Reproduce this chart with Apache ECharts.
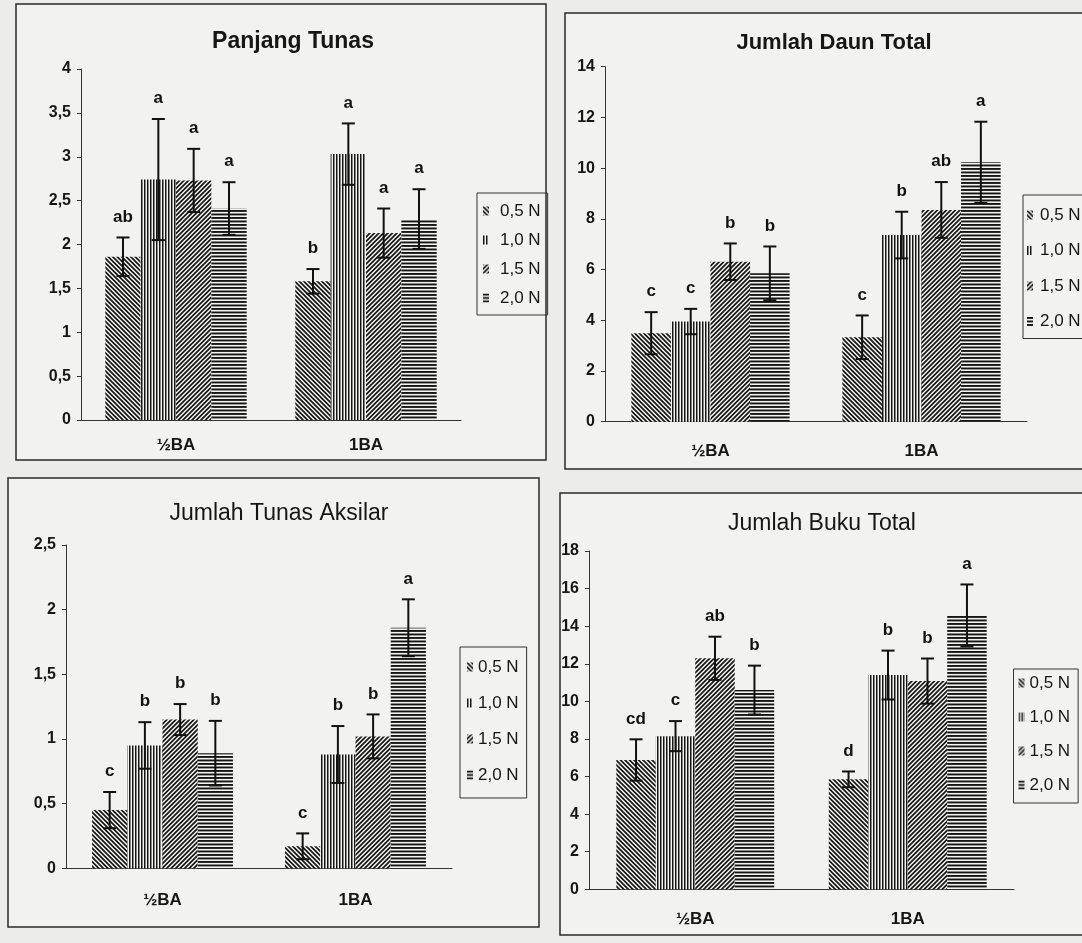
<!DOCTYPE html>
<html>
<head>
<meta charset="utf-8">
<script src="https://cdn.jsdelivr.net/npm/echarts@6/dist/echarts.min.js"></script>
<style>
  html, body { margin: 0; padding: 0; background: #ececea; }
  #chart { width: 1082px; height: 943px; }
</style>
</head>
<body>
<div id="chart"></div>
<script>
const categories = ['½BA', '1BA'];
const nitrogen = ['0,5 N', '1,0 N', '1,5 N', '2,0 N'];

// values per nitrogen level: [½BA, 1BA]
const panjangMean = [[1.86, 1.58], [2.74, 3.03], [2.73, 2.13], [2.41, 2.29]];
const panjangErr = [[0.22, 0.14], [0.69, 0.35], [0.36, 0.28], [0.30, 0.34]];
const panjangLetter = [['ab', 'b'], ['a', 'a'], ['a', 'a'], ['a', 'a']];
const panjangTicks = [0, 0.5, 1, 1.5, 2, 2.5, 3, 3.5, 4];

const daunMean = [[3.49, 3.33], [3.95, 7.36], [6.31, 8.35], [5.85, 10.23]];
const daunErr = [[0.83, 0.86], [0.50, 0.92], [0.72, 1.10], [1.06, 1.60]];
const daunLetter = [['c', 'c'], ['c', 'b'], ['b', 'ab'], ['b', 'a']];
const daunTicks = [0, 2, 4, 6, 8, 10, 12, 14];

const aksilarMean = [[0.45, 0.17], [0.95, 0.88], [1.15, 1.02], [0.89, 1.86]];
const aksilarErr = [[0.14, 0.10], [0.18, 0.22], [0.12, 0.17], [0.25, 0.22]];
const aksilarLetter = [['c', 'c'], ['b', 'b'], ['b', 'b'], ['b', 'a']];
const aksilarTicks = [0, 0.5, 1, 1.5, 2, 2.5];

const bukuMean = [[6.88, 5.85], [8.15, 11.40], [12.29, 11.08], [10.60, 14.57]];
const bukuErr = [[1.10, 0.42], [0.80, 1.30], [1.15, 1.20], [1.30, 1.65]];
const bukuLetter = [['cd', 'd'], ['c', 'b'], ['ab', 'b'], ['b', 'a']];
const bukuTicks = [0, 2, 4, 6, 8, 10, 12, 14, 16, 18];

const FONT = '"Liberation Sans", Arial, sans-serif';
const INK = '#161616';
const PAPER = '#f4f4f2';

// hatch fills: "\\", "|||", "///", "==="
function hatch(kind) {
  const c = document.createElement('canvas');
  const ctx = c.getContext('2d');
  if (kind === 'back' || kind === 'fwd') {
    const t = 9, step = 4.5;
    c.width = t; c.height = t;
    ctx.fillStyle = PAPER; ctx.fillRect(0, 0, t, t);
    ctx.strokeStyle = INK; ctx.lineWidth = 1.7;
    ctx.beginPath();
    for (let k = -2; k <= 2; k++) {
      const o = k * step;
      if (kind === 'back') { ctx.moveTo(o - 2, -2); ctx.lineTo(o + t + 2, t + 2); }
      else { ctx.moveTo(o - 2, t + 2); ctx.lineTo(o + t + 2, -2); }
    }
    ctx.stroke();
  } else if (kind === 'vert') {
    c.width = 3; c.height = 3;
    ctx.fillStyle = PAPER; ctx.fillRect(0, 0, 3, 3);
    ctx.fillStyle = INK; ctx.fillRect(0, 0, 1.5, 3);
  } else {
    c.width = 7; c.height = 7;
    ctx.fillStyle = PAPER; ctx.fillRect(0, 0, 7, 7);
    ctx.fillStyle = INK; ctx.fillRect(0, 0, 7, 1.9); ctx.fillRect(0, 3.5, 7, 1.9);
  }
  return { image: c, repeat: 'repeat' };
}
const fills = [hatch('back'), hatch('vert'), hatch('fwd'), hatch('horiz')];

const panels = [
  { title: 'Panjang Tunas', bold: true, size: 23, mean: panjangMean, err: panjangErr, letter: panjangLetter, ticks: panjangTicks,
    grid: { left: 81, top: 69, width: 380, height: 351 }, gap: 0.256, titleAt: [293, 41], xMargin: 17,
    frame: [16, 4, 530, 456],
    legend: { left: 477, top: 193, itemGap: 11, padding: [9, 7, 8, 6], textPad: 6 } },
  { title: 'Jumlah Daun Total', bold: true, size: 22, mean: daunMean, err: daunErr, letter: daunLetter, ticks: daunTicks,
    grid: { left: 605, top: 66.7, width: 422, height: 355 }, gap: 0.25, titleAt: [834, 43], xMargin: 21,
    frame: [565, 13, 540, 456],
    legend: { left: 1023, top: 195, itemGap: 17.5, padding: [11, 8, 8, 4], textPad: 2 } },
  { title: 'Jumlah Tunas Aksilar', bold: false, size: 23, mean: aksilarMean, err: aksilarErr, letter: aksilarLetter, ticks: aksilarTicks,
    grid: { left: 66, top: 545, width: 386, height: 323.3 }, gap: 0.27, titleAt: [279, 513], xMargin: 24,
    frame: [8, 478, 531, 449],
    legend: { left: 460, top: 647, itemGap: 18, padding: [11, 8, 14, 7], textPad: 0 } },
  { title: 'Jumlah Buku Total', bold: false, size: 23, mean: bukuMean, err: bukuErr, letter: bukuLetter, ticks: bukuTicks,
    grid: { left: 589, top: 551, width: 425, height: 338.3 }, gap: 0.257, titleAt: [822, 523], xMargin: 22,
    frame: [560, 493, 540, 442],
    legend: { left: 1013.5, top: 669, itemGap: 16, padding: [5, 8, 9, 5], textPad: 0 } }
];

function errorBars(gapFrac, letters) {
  return function (params, api) {
    const cat = api.value(0), s = api.value(1), mean = api.value(2), err = api.value(3);
    const band = api.size([1, 0])[0];
    const barW = band * (1 - gapFrac) / 4;
    const cx = api.coord([cat, mean])[0] + (s - 1.5) * barW;
    const yTop = api.coord([cat, mean + err])[1];
    const yBot = api.coord([cat, mean - err])[1];
    const cap = 6.5;
    const ls = { stroke: '#111', lineWidth: 2 };
    return {
      type: 'group',
      children: [
        { type: 'line', shape: { x1: cx, y1: yTop, x2: cx, y2: yBot }, style: ls },
        { type: 'line', shape: { x1: cx - cap, y1: yTop, x2: cx + cap, y2: yTop }, style: ls },
        { type: 'line', shape: { x1: cx - cap, y1: yBot, x2: cx + cap, y2: yBot }, style: ls },
        { type: 'text', x: cx, y: yTop - 12,
          style: { text: letters[s][cat], align: 'center', verticalAlign: 'bottom',
                   font: 'bold 17px ' + FONT, fill: '#111' } }
      ]
    };
  };
}

const series = [];
panels.forEach((p, i) => {
  nitrogen.forEach((n, s) => {
    series.push({
      type: 'bar', name: n, xAxisIndex: i, yAxisIndex: i,
      data: p.mean[s], barGap: '0%', barCategoryGap: (p.gap * 100) + '%',
      itemStyle: { color: fills[s] }, emphasis: { disabled: true }
    });
  });
  const pts = [];
  nitrogen.forEach((n, s) => {
    categories.forEach((c, k) => pts.push([k, s, p.mean[s][k], p.err[s][k]]));
  });
  series.push({
    type: 'custom', xAxisIndex: i, yAxisIndex: i, z: 5, silent: true,
    data: pts, renderItem: errorBars(p.gap, p.letter)
  });
});

const chart = echarts.init(document.getElementById('chart'));
chart.setOption({
  backgroundColor: '#ececea',
  animation: false,
  textStyle: { fontFamily: FONT },
  graphic: panels.map(p => ({
    type: 'rect', z: -10,
    shape: { x: p.frame[0], y: p.frame[1], width: p.frame[2], height: p.frame[3] },
    style: { fill: '#f2f2f0', stroke: '#2a2a2a', lineWidth: 1.5 }
  })),
  title: panels.map(p => ({
    text: p.title, left: p.titleAt[0], top: p.titleAt[1] - 11, textAlign: 'center', padding: 0,
    textStyle: { fontSize: p.size, fontWeight: p.bold ? 'bold' : 'normal', color: INK, fontFamily: FONT }
  })),
  legend: panels.map(p => ({
    orient: 'vertical', left: p.legend.left, top: p.legend.top, data: nitrogen,
    icon: 'rect', itemWidth: 6, itemHeight: 9, itemGap: p.legend.itemGap, padding: p.legend.padding,
    borderColor: '#333', borderWidth: 1, selectedMode: false,
    textStyle: { fontSize: 17, lineHeight: 18, color: INK, fontFamily: FONT, padding: [0, 0, 0, p.legend.textPad] }
  })),
  grid: panels.map(p => Object.assign({ outerBoundsMode: 'none' }, p.grid)),
  xAxis: panels.map((p, i) => ({
    type: 'category', gridIndex: i, data: categories,
    axisLine: { lineStyle: { color: '#333', width: 1 } },
    axisTick: { length: 5, lineStyle: { color: '#333' } },
    axisLabel: { margin: p.xMargin, fontSize: 17, fontWeight: 'bold', color: INK }
  })),
  yAxis: panels.map((p, i) => ({
    type: 'value', gridIndex: i,
    min: p.ticks[0], max: p.ticks[p.ticks.length - 1], interval: p.ticks[1] - p.ticks[0],
    axisLine: { show: true, lineStyle: { color: '#333', width: 1 } },
    axisTick: { show: true, length: 4, lineStyle: { color: '#333' } },
    splitLine: { show: false },
    axisLabel: { margin: 10, fontSize: 16, fontWeight: 'bold', color: INK,
                 formatter: v => String(v).replace('.', ',') }
  })),
  series: series
});
</script>
</body>
</html>
